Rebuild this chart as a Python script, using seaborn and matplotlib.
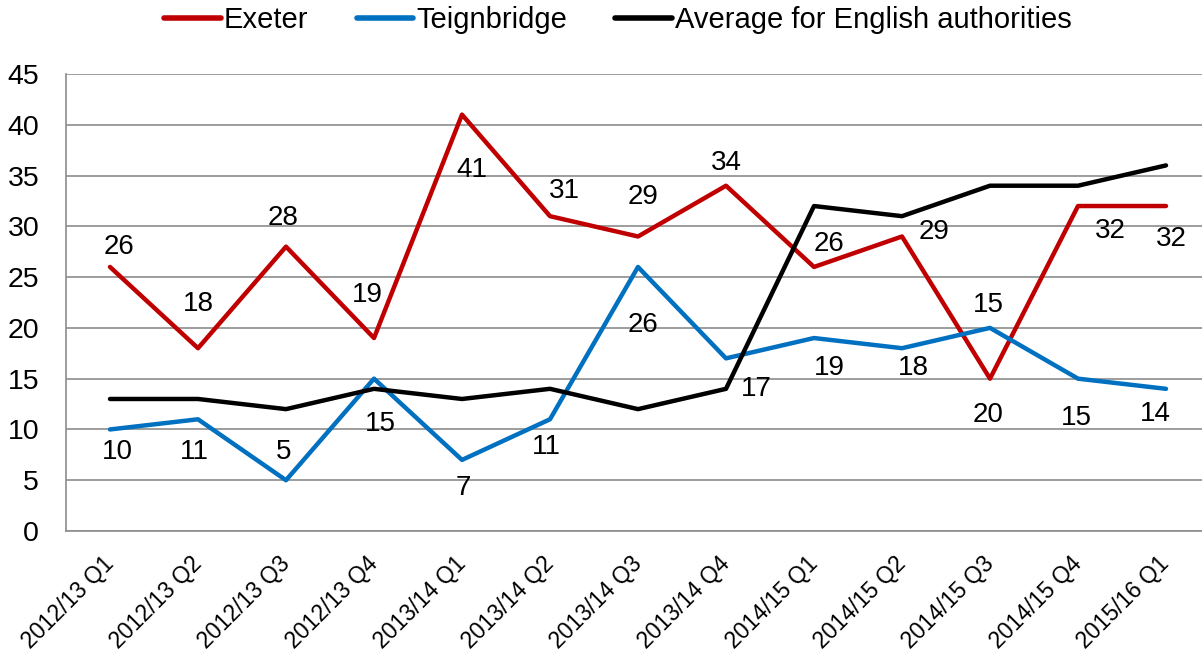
import matplotlib
matplotlib.use("Agg")
import matplotlib.pyplot as plt
import seaborn as sns
import pandas as pd
import numpy as np

categories = ["2012/13 Q1", "2012/13 Q2", "2012/13 Q3", "2012/13 Q4",
              "2013/14 Q1", "2013/14 Q2", "2013/14 Q3", "2013/14 Q4",
              "2014/15 Q1", "2014/15 Q2", "2014/15 Q3", "2014/15 Q4",
              "2015/16 Q1"]
exeter = [26, 18, 28, 19, 41, 31, 29, 34, 26, 29, 15, 32, 32]
teignbridge = [10, 11, 5, 15, 7, 11, 26, 17, 19, 18, 20, 15, 14]
average = [13, 13, 12, 14, 13, 14, 12, 14, 32, 31, 34, 34, 36]
series_names = ["Exeter", "Teignbridge", "Average for English authorities"]
y_ticks = list(range(0, 50, 5))

# label offsets in pixels (dx right, dy down) - styling only
exeter_off = [(9, -20), (0, -44), (-3, -29), (-7, -43), (10, 55), (14, -25),
              (5, -39), (0, -23), (15, -23), (32, -4), (-2, -74), (32, 25), (5, 33)]
teign_off = [(7, 23), (-4, 33), (-2, -28), (6, 45), (1, 28), (-4, 28), (5, 58),
             (30, 31), (15, 30), (11, 20), (-2, 87), (-2, 39), (-11, 25)]

sns.set_style("white")
plt.rcParams['font.family'] = ['Liberation Sans', 'DejaVu Sans']
plt.rcParams['text.color'] = 'black'
plt.rcParams['xtick.color'] = 'black'
plt.rcParams['ytick.color'] = 'black'

colors = {"Exeter": "#C00000", "Teignbridge": "#0070C0",
          "Average for English authorities": "#000000"}

n = len(categories)
df = pd.DataFrame({
    "x": list(range(n)) * 3,
    "value": exeter + teignbridge + average,
    "series": [series_names[0]] * n + [series_names[1]] * n + [series_names[2]] * n,
})

W, H = 1202, 657
fig = plt.figure(figsize=(W / 100, H / 100), dpi=100)
left, right, top, bottom = 66, 1210, 74, 531
ax = fig.add_axes([left / W, 1 - bottom / H, (right - left) / W, (bottom - top) / H])

sns.lineplot(data=df, x="x", y="value", hue="series", palette=colors,
             hue_order=series_names, linewidth=3.2, ax=ax, legend=True,
             solid_capstyle="round")

ax.set_xlim(-0.5, n - 0.5)
ax.set_ylim(0, 45)
ax.set_yticks(y_ticks)
ax.set_yticklabels([str(t) for t in y_ticks], fontsize=20.5)
ax.yaxis.grid(True, color="#8C8C8C", linewidth=1.2)
ax.set_axisbelow(True)
ax.set_xlabel("")
ax.set_ylabel("")

for s in ["top", "right"]:
    ax.spines[s].set_visible(False)
for s in ["left", "bottom"]:
    ax.spines[s].set_color("#8C8C8C")
    ax.spines[s].set_linewidth(1.2)

ax.tick_params(axis="y", which="major", length=5.8, width=1.2, color="#8C8C8C",
               direction="out", pad=13.5, labelcolor="black")
ax.set_xticks(np.arange(-0.5, n, 1.0))
ax.set_xticklabels([])
ax.tick_params(axis="x", which="major", length=4.5, width=1.2, color="#8C8C8C",
               direction="out")
ax.set_xticks(np.arange(n), minor=True)
ax.set_xticklabels(categories, minor=True, fontsize=16.5, rotation=45,
                   ha="right", va="center", rotation_mode="anchor")
ax.tick_params(axis="x", which="minor", length=0, pad=21, labelcolor="black")

for i in range(n):
    dx, dy = exeter_off[i]
    ax.annotate(str(exeter[i]), (i, exeter[i]), xytext=(dx * 0.72, -dy * 0.72),
                textcoords="offset points", ha="center", va="center",
                fontsize=20, color="black")
    dx, dy = teign_off[i]
    ax.annotate(str(teignbridge[i]), (i, teignbridge[i]), xytext=(dx * 0.72, -dy * 0.72),
                textcoords="offset points", ha="center", va="center",
                fontsize=20, color="black")

handles, labels = ax.get_legend_handles_labels()
ax.get_legend().remove()
for h in handles:
    h.set_solid_capstyle("round")
    h.set_linewidth(4)
fig.legend(handles, labels, loc="center", bbox_to_anchor=(618 / W, 1 - 20 / H),
           ncol=3, frameon=False, fontsize=21, handlelength=1.95,
           handletextpad=0.1, columnspacing=1.65)

fig.savefig("out.png", dpi=100)
